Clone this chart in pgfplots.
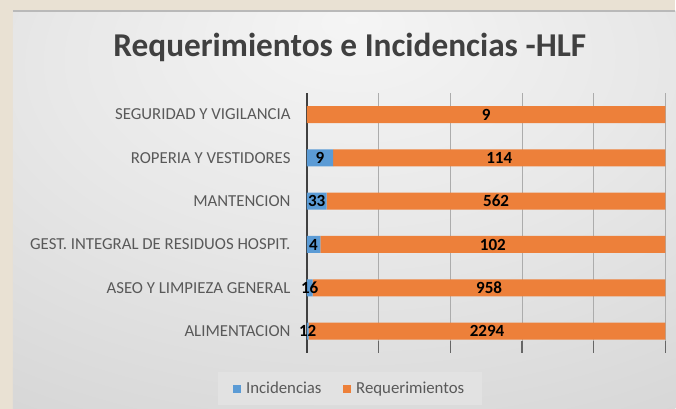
\documentclass[border=0pt]{standalone}
\usepackage{pgfplots}
\usepackage{pgfplotstable}
\pgfplotsset{compat=1.18}
\usepackage{fontspec}
\setmainfont{Carlito}
\definecolor{incblue}{RGB}{91,155,213}
\definecolor{reqorange}{RGB}{237,128,58}
\definecolor{beige}{RGB}{233,225,211}
\definecolor{labgray}{RGB}{89,89,89}
\definecolor{titlegray}{RGB}{64,64,64}
\definecolor{legfill}{RGB}{226,226,226}
\pgfdeclareradialshading{panelshade}{\pgfpoint{0bp}{24bp}}{color(0bp)=(white!96!black); color(22bp)=(white!91!black); color(50bp)=(white!83!black); color(100bp)=(white!79!black)}

\pgfplotstableread{
y inc req
0 12 2294
1 16 958
2 4 102
3 33 562
4 9 114
5 0 9
}\data

\begin{document}
\begin{tikzpicture}[x=0.75pt,y=0.75pt]
% background
\fill[beige] (0,0) rectangle (676,409);
\begin{scope}
\clip (0,0) rectangle (676,409);
\shade[shading=panelshade] (13,0) rectangle (690,398);
\end{scope}
\draw[gray!55, line width=0.8pt] (13,398) -- (676,398);
% title
\node[font=\fontsize{25}{30}\selectfont\bfseries, text=titlegray] at (350,362) {Requerimientos e Incidencias -HLF};

\pgfplotsset{common/.style={
  at={(230.25pt,42pt)}, anchor=south west, scale only axis,
  width=269.25pt, height=195pt,
  xmin=0, xmax=100, ymin=-0.5, ymax=5.5,
  ytick={0,1,2,3,4,5},
}}

\begin{axis}[common,
  xbar stacked, bar width=12.75pt,
  axis lines=left, axis line style={-},
  x axis line style={draw=none},
  y axis line style={draw=black!75, line width=1.5pt},
  xtick={0,20,40,60,80,100}, xticklabels={},
  xmajorgrids, major grid style={gray!65, line width=0.6pt},
  xtick style={draw=gray!80!black, line width=0.8pt},
  tick align=inside, major tick length=9pt,
  ytick style={draw=none},
  yticklabels={ALIMENTACION, ASEO Y LIMPIEZA GENERAL, GEST. INTEGRAL DE RESIDUOS HOSPIT., MANTENCION, ROPERIA Y VESTIDORES, SEGURIDAD Y VIGILANCIA},
  yticklabel style={font=\fontsize{12.6}{14}\selectfont, text=labgray, inner sep=0pt, xshift=-12pt},
  legend style={at={(0.12,-0.138)}, anchor=center, fill=legfill, draw=none,
    font=\fontsize{12.6}{14}\selectfont, text=labgray, inner xsep=11pt, inner ysep=5pt,
    legend columns=2, /tikz/every even column/.append style={column sep=14pt}},
  legend image code/.code={\fill[#1] (0pt,-3pt) rectangle (6pt,3pt); \path (0pt,0pt) (8pt,0pt);},
]
\addplot[fill=incblue, draw=none] table[y=y, x expr={100*\thisrow{inc}/(\thisrow{inc}+\thisrow{req})}] {\data};
\addplot[fill=reqorange, draw=none] table[y=y, x expr={100*\thisrow{req}/(\thisrow{inc}+\thisrow{req})}] {\data};
\legend{Incidencias, Requerimientos}
\end{axis}

\begin{axis}[common, hide axis, clip=false,
  nodes near coords, point meta=explicit symbolic,
  nodes near coords style={anchor=center, font=\fontsize{12.8}{14}\selectfont\bfseries, text=black},
]
\addplot[draw=none, mark=none, restrict expr to domain={\thisrow{inc}}{0.5:100000}]
  table[y=y, meta=inc, x expr={50*\thisrow{inc}/(\thisrow{inc}+\thisrow{req})}] {\data};
\addplot[draw=none, mark=none]
  table[y=y, meta=req, x expr={100*\thisrow{inc}/(\thisrow{inc}+\thisrow{req})+50*\thisrow{req}/(\thisrow{inc}+\thisrow{req})}] {\data};
\end{axis}
\end{tikzpicture}
\end{document}
